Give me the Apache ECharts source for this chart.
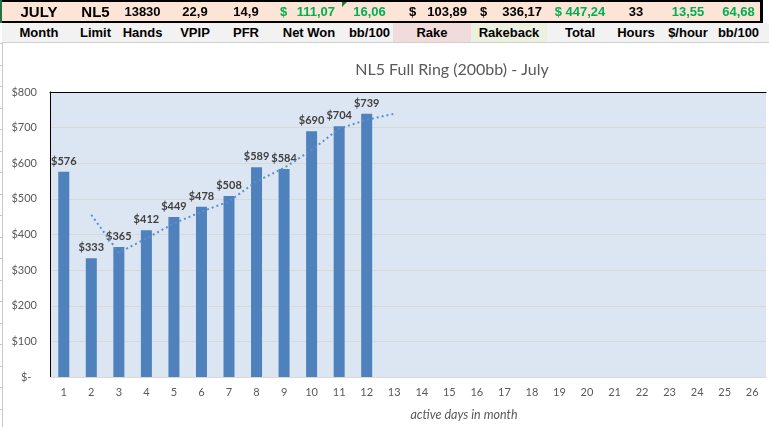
<!DOCTYPE html>
<html lang="en">
<head>
    <meta charset="UTF-8">
    <title>NL5 Full Ring (200bb) - July</title>
    <script src="https://cdn.jsdelivr.net/npm/echarts@6/dist/echarts.min.js"></script>
    <style>
        html, body { margin: 0; padding: 0; background: #fff; }
        #wrap { position: relative; width: 769px; height: 427px; overflow: hidden; }
        #main { position: absolute; left: 0; top: 0; width: 769px; height: 427px; }
        .row1 { position: absolute; left: 2px; top: 0; width: 758px; height: 19px;
                background: #fce4d6; border-top: 2px solid #000; border-bottom: 2px solid #000;
                border-right: 3px solid #000; }
        .row2 { position: absolute; left: 2px; top: 23px; width: 767px; height: 19px;
                background: #f2f2f2; border-bottom: 1px solid #d0d0d0; }
        .cell { position: absolute; top: 0; height: 19px; line-height: 19px;
                font-family: "Liberation Sans", Arial, sans-serif; font-weight: bold;
                font-size: 13px; color: #000; text-align: center; white-space: nowrap;
                box-sizing: border-box; }
        .acc { display: flex; justify-content: space-between; }
        .green { color: #00b050; }
        .big { font-size: 15px; }
        .tri { position: absolute; left: 342px; top: 2px; width: 0; height: 0;
               border-top: 5px solid #1e7b34; border-right: 5px solid transparent; }
        .sheet { position: absolute; left: 2px; top: 43px; width: 1px; height: 384px; background: #c8c8c8; }
        .rowtick { position: absolute; left: 0; width: 3px; height: 1px; background: #c8c8c8; }
        .selbar { position: absolute; left: 0; top: 0; width: 2px; height: 23px; background: #217346; }
    </style>
</head>
<body>
<div id="wrap">
    <div id="main"></div>
    <div class="row2" id="labels"></div>
    <div class="row1" id="values"></div>
    <div class="tri"></div>
    <div class="selbar"></div>
    <div class="sheet"></div>
</div>
<script>
    // summary row
    var headerLabels = ['Month', 'Limit', 'Hands', 'VPIP', 'PFR', 'Net Won', 'bb/100',
        'Rake', 'Rakeback', 'Total', 'Hours', '$/hour', 'bb/100'];
    var headerValues = ['JULY', 'NL5', '13830', '22,9', '14,9', '$|111,07', '16,06',
        '$|103,89', '$|336,17', '$ 447,24', '33', '13,55', '64,68'];
    var greenCols = [5, 6, 9, 11, 12];

    // chart data
    var days = ['1', '2', '3', '4', '5', '6', '7', '8', '9', '10', '11', '12', '13',
        '14', '15', '16', '17', '18', '19', '20', '21', '22', '23', '24', '25', '26'];
    var winnings = [576, 333, 365, 412, 449, 478, 508, 589, 584, 690, 704, 739];
    var trend = [null, 455, 349, 389, 431, 464, 493, 549, 587, 637, 697, 722, 739];

    // layout of the sheet columns (cell edges, px)
    var colEdges = [0, 74, 113, 168, 218, 270, 344, 391, 469, 545, 611, 657, 715, 758];
    var accPad = {5: [8, 11], 7: [16, 4], 8: [9, 5]};
    var labelBg = {7: '#f2dcdb', 8: '#ebf1de'};

    var valRow = document.getElementById('values');
    var labRow = document.getElementById('labels');
    for (var i = 0; i < headerLabels.length; i++) {
        var l = colEdges[i], w = colEdges[i + 1] - colEdges[i];
        var v = document.createElement('div');
        v.className = 'cell' + (greenCols.indexOf(i) >= 0 ? ' green' : '') + (i < 2 ? ' big' : '');
        v.style.left = l + 'px';
        v.style.width = w + 'px';
        if (headerValues[i].indexOf('|') >= 0) {
            var parts = headerValues[i].split('|');
            v.className += ' acc';
            v.style.paddingLeft = accPad[i][0] + 'px';
            v.style.paddingRight = accPad[i][1] + 'px';
            v.innerHTML = '<span>' + parts[0] + '</span><span>' + parts[1] + '</span>';
        } else {
            v.textContent = headerValues[i];
        }
        valRow.appendChild(v);

        var h = document.createElement('div');
        h.className = 'cell';
        h.style.left = l + 'px';
        h.style.width = w + 'px';
        if (labelBg[i]) h.style.background = labelBg[i];
        h.textContent = headerLabels[i];
        labRow.appendChild(h);
    }
    var wrap = document.getElementById('wrap');
    for (var y = 43; y < 427; y += 21.5) {
        var t = document.createElement('div');
        t.className = 'rowtick';
        t.style.top = Math.round(y) + 'px';
        wrap.appendChild(t);
    }

    var font = 'Lato, "Open Sans", sans-serif';
    var option = {
        animation: false,
        backgroundColor: '#fff',
        title: {
            text: 'NL5 Full Ring (200bb) - July',
            left: 447,
            top: 57,
            textAlign: 'center',
            textStyle: {fontFamily: font, fontSize: 16, fontWeight: 'normal', color: '#595959'}
        },
        grid: {
            left: 50, right: 3, top: 92, bottom: 50,
            show: true, backgroundColor: '#dce6f2', borderWidth: 0
        },
        xAxis: [{
            type: 'category',
            data: days,
            axisLine: {lineStyle: {color: '#d9d9d9'}},
            axisTick: {show: false},
            axisLabel: {color: '#595959', fontFamily: font, fontSize: 11, margin: 10},
            name: 'active days in month',
            nameLocation: 'middle',
            nameGap: 31,
            nameTextStyle: {
                color: '#595959', fontFamily: font, fontSize: 12.5, fontStyle: 'italic',
                padding: [0, 0, 0, 112]
            }
        }, {
            type: 'category',
            data: days,
            position: 'top',
            axisLine: {lineStyle: {color: '#000', width: 1}},
            axisTick: {show: false},
            axisLabel: {show: false}
        }],
        yAxis: {
            type: 'value',
            min: 0,
            max: 800,
            interval: 100,
            axisLine: {show: true, lineStyle: {color: '#000', width: 1}},
            axisTick: {show: false},
            splitLine: {lineStyle: {color: '#d9d9d9'}},
            axisLabel: {
                color: '#595959', fontFamily: font, fontSize: 11, margin: 13,
                formatter: function (v) { return v === 0 ? '$-  ' : '$' + v; }
            }
        },
        series: [{
            name: 'winnings',
            type: 'bar',
            data: winnings,
            barWidth: 11,
            itemStyle: {color: '#4f81bd'},
            label: {
                show: true,
                position: 'top',
                distance: 5,
                color: '#404040',
                fontFamily: font,
                fontSize: 11,
                fontWeight: 'bold',
                formatter: function (p) { return '$' + p.value; }
            }
        }, {
            name: 'trend',
            type: 'line',
            data: trend,
            symbol: 'none',
            lineStyle: {color: '#5b8fd0', width: 2, type: [2, 3]},
            z: 3
        }]
    };
    var myChart = echarts.init(document.getElementById('main'));
    myChart.setOption(option);
</script>
</body>
</html>
